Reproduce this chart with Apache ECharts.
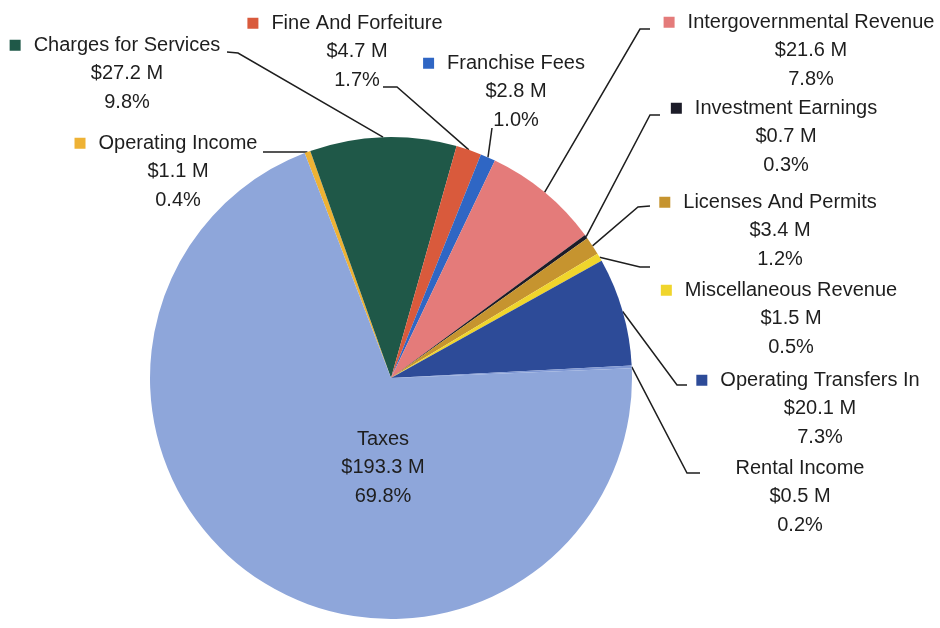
<!DOCTYPE html>
<html>
<head>
<meta charset="utf-8">
<script src="https://cdn.jsdelivr.net/npm/echarts@6/dist/echarts.min.js"></script>
<style>
html,body{margin:0;padding:0;background:#ffffff;}
#chart{width:940px;height:628px;}
</style>
</head>
<body>
<div id="chart"></div>
<script>
// ---- data ----
const categories = [
  'Operating Income',
  'Charges for Services',
  'Fine And Forfeiture',
  'Franchise Fees',
  'Intergovernmental Revenue',
  'Investment Earnings',
  'Licenses And Permits',
  'Miscellaneous Revenue',
  'Operating Transfers In',
  'Rental Income',
  'Taxes'
];
const valuesM = [1.1, 27.2, 4.7, 2.8, 21.6, 0.7, 3.4, 1.5, 20.1, 0.5, 193.3];
const percentLabels = ['0.4%', '9.8%', '1.7%', '1.0%', '7.8%', '0.3%', '1.2%', '0.5%', '7.3%', '0.2%', '69.8%'];

// ---- styles ----
const colors = ['#eeb235', '#1f5848', '#d95a3c', '#2f66c4', '#e47b7a', '#1c1c28',
                '#c6942f', '#f0d52c', '#2d4b98', '#7f98d4', '#8ea6da'];
const noKey = { 'Rental Income': true, 'Taxes': true };
const FONT = "'Liberation Sans', Arial, sans-serif";
const FS = 20;
const LH = 28.5;

// label placement (center x, top y) and leader-line bend points
const labelPlace = [
  { x: 178, y: 129, pts: [[290, 152], [263, 152]] },
  { x: 127, y: 31,  pts: [[238, 53], [227, 52]] },
  { x: 357, y: 9,   pts: [[397, 87], [383, 87]] },
  { x: 516, y: 49,  pts: [[492, 128]] },
  { x: 811, y: 8,   pts: [[640, 29], [650, 29]] },
  { x: 786, y: 94,  pts: [[650, 115], [660, 115]] },
  { x: 780, y: 188, pts: [[638, 207], [650, 206]] },
  { x: 791, y: 276, pts: [[640, 267], [650, 267]] },
  { x: 820, y: 366, pts: [[677, 385], [687, 385]] },
  { x: 800, y: 454, pts: [[687, 473], [700, 473]] },
  { x: 383, y: 425, pts: null }
];

const rich = {
  gap: { width: 13 },
  pad: { width: 24 },
  t: { fontFamily: FONT, fontSize: FS, color: '#1e1e1e', lineHeight: LH }
};
colors.forEach((c, i) => {
  rich['sq' + i] = { width: 11, height: 11, backgroundColor: c, lineHeight: LH };
});

const data = categories.map((name, i) => ({
  name: name,
  value: valuesM[i],
  itemStyle: { color: colors[i] },
  labelLine: { show: labelPlace[i].pts !== null }
}));

const chart = echarts.init(document.getElementById('chart'), null, { renderer: 'canvas' });
chart.setOption({
  backgroundColor: '#ffffff',
  animation: false,
  series: [{
    type: 'pie',
    center: [391, 378],
    radius: 241,
    startAngle: 111,
    clockwise: true,
    avoidLabelOverlap: false,
    data: data,
    label: {
      show: true,
      position: 'outside',
      fontFamily: FONT,
      fontSize: FS,
      color: '#1e1e1e',
      lineHeight: LH,
      align: 'center',
      formatter: function (p) {
        const i = p.dataIndex;
        const first = noKey[p.name]
          ? '{t|' + p.name + '}'
          : '{sq' + i + '|}{gap|}{t|' + p.name + '}{pad|}';
        return first + '\n{t|$' + valuesM[i].toFixed(1) + ' M}\n{t|' + percentLabels[i] + '}';
      },
      rich: rich
    },
    labelLine: {
      show: true,
      lineStyle: { color: '#1e1e1e', width: 1.5 }
    },
    labelLayout: function (params) {
      const lp = labelPlace[params.dataIndex];
      const out = { x: lp.x, y: lp.y, align: 'center', verticalAlign: 'top' };
      if (lp.pts && params.labelLinePoints) {
        const start = params.labelLinePoints[0];
        out.labelLinePoints = [[start[0], start[1]]].concat(lp.pts);
      }
      return out;
    }
  }]
});
</script>
</body>
</html>
